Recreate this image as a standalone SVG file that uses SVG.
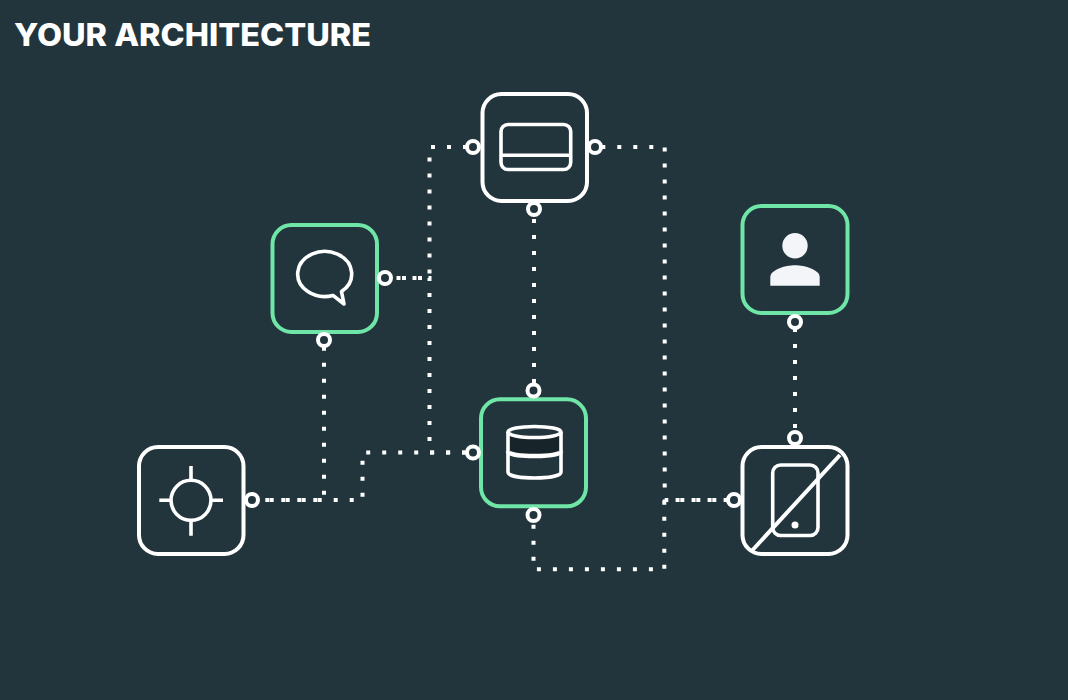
<svg xmlns="http://www.w3.org/2000/svg" width="1068" height="700" viewBox="0 0 1068 700">
<style>
.bg{fill:#22353c}
.title{font-family:"Inter","Liberation Sans",sans-serif;font-weight:800;font-size:31px;fill:#fff}
.box{fill:#22353c;stroke-width:4}
.w{stroke:#fff}
.g{stroke:#6fe6a8}
.c{fill:none;stroke:#fff;stroke-width:4;stroke-dasharray:4 12}
.p{fill:#22353c;stroke:#fff;stroke-width:4}
.i{fill:none;stroke:#fff;stroke-width:3.6;stroke-linejoin:round}
</style>
<rect class="bg" width="1068" height="700"/>
<text id="title" class="title" x="14" y="46" textLength="357" lengthAdjust="spacingAndGlyphs">YOUR ARCHITECTURE</text>
<g id="connectors">
<path class="c" d="M467 147H429.5V278H385"/>
<path class="c" d="M466 452.5H429.5V278H385"/>
<path class="c" d="M253.7 500H362.5V452.5H465"/>
<path class="c" d="M324 346.7V500H252"/>
<path class="c" d="M534 203V397"/>
<path class="c" d="M601.3 147H664.7V500H734"/>
<path class="c" d="M533.5 508.7V569.3H664.3V500H734"/>
<path class="c" d="M795 328V438"/>
</g>
<g id="node-card">
<rect class="box w" x="482.5" y="94" width="104.5" height="107" rx="19"/>
<rect class="i" x="501" y="124.5" width="69.7" height="45" rx="7"/>
<path class="i" d="M501 155.3H570.7"/>
<circle class="p" cx="473" cy="147" r="6"/><circle class="p" cx="595" cy="147" r="6"/><circle class="p" cx="534" cy="209" r="6"/>
</g>
<g id="node-chat">
<rect class="box g" x="272.5" y="225" width="104.5" height="107" rx="19"/>
<path class="i" d="M333 295.4A27 22.5 0 1 1 341.5 291.6L344 304Z"/>
<circle class="p" cx="385" cy="278" r="6"/><circle class="p" cx="324" cy="340" r="6"/>
</g>
<g id="node-target">
<rect class="box w" x="139" y="447" width="104.5" height="107" rx="19"/>
<circle class="i" cx="191" cy="500.3" r="20"/>
<path class="i" d="M159.3 500.3H171M211 500.3H223M191 466V480M191 520.5V535.7"/>
<circle class="p" cx="252" cy="500" r="6"/>
</g>
<g id="node-database">
<rect class="box g" x="481" y="399.3" width="105" height="107" rx="19"/>
<path d="M508 432C508 439 561 439 561 432V452C561 458 508 458 508 452Z" fill="#17252b"/>
<ellipse class="i" cx="534.5" cy="432" rx="26.5" ry="5.5"/>
<path class="i" d="M508 432V472C508 480 561 480 561 472V432"/>
<path class="i" style="stroke-width:4.5" d="M508 451.5C508 457.5 561 457.5 561 451.5"/>
<circle class="p" cx="473" cy="452.5" r="6"/><circle class="p" cx="533.5" cy="390.5" r="6"/><circle class="p" cx="533.5" cy="515" r="6"/>
</g>
<g id="node-user">
<rect class="box g" x="742.5" y="206" width="105" height="107" rx="19"/>
<circle cx="795" cy="245.7" r="12.7" fill="#f3f5f9"/>
<path fill="#f3f5f9" d="M770.3 285.7V277C770.3 270 785 265.3 795 265.3S819.7 270 819.7 277V285.7Z"/>
<circle class="p" cx="795" cy="322" r="6"/>
</g>
<g id="node-phone">
<rect class="box w" x="742.5" y="447" width="105" height="107" rx="19"/>
<rect class="i" x="772.7" y="465" width="45.3" height="70.5" rx="8"/>
<circle cx="795" cy="525" r="3.5" fill="#fff"/>
<path class="i" style="stroke-width:4" d="M840 455L751.7 551"/>
<circle class="p" cx="734" cy="500" r="6"/><circle class="p" cx="795" cy="438" r="6"/>
</g>
</svg>
